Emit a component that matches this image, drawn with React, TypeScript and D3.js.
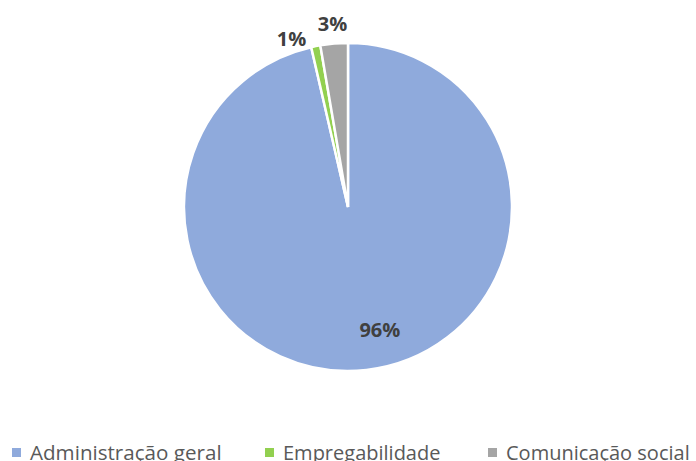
import React from "react";
import * as d3 from "d3";

const categories = ["Administração geral", "Empregabilidade", "Comunicação social"];
const values = [96.4, 0.9, 2.7];
const labels = ["96%", "1%", "3%"];
const colors = ["#8FAADC", "#92D050", "#A5A5A5"];

const W = 696;
const H = 461;

export default function App() {
  const cx = 348, cy = 207, r = 164;
  const pie = d3.pie<number>().sort(null).value((d) => d)(values);
  const arc = d3.arc<d3.PieArcDatum<number>>().innerRadius(0).outerRadius(r);
  const labelRadius = [r * 0.75, r * 1.085, r * 1.12];
  const labelShift = [0, -0.125, 0];
  const labelPos = (d: d3.PieArcDatum<number>, i: number): [number, number] => {
    const a = arc.innerRadius(labelRadius[i]).outerRadius(labelRadius[i]);
    const [x, y] = a.centroid({ ...d, startAngle: d.startAngle + labelShift[i], endAngle: d.endAngle + labelShift[i] });
    arc.innerRadius(0).outerRadius(r);
    return i === 0 ? [x + 18, y] : [x, y];
  };
  const legendX = [12, 265, 488];
  const positions = pie.map((d, i) => labelPos(d, i));
  return (
    <svg
      width={W}
      height={H}
      style={{ position: "absolute", left: 0, top: 0, fontFamily: "'Open Sans', 'Noto Sans', sans-serif" }}
    >
      <rect width={W} height={H} fill="#fff" />
      <g transform={`translate(${cx},${cy})`}>
        {pie.map((d, i) => (
          <path key={i} d={arc(d) || ""} fill={colors[i]} stroke="#fff" strokeWidth={2.5} />
        ))}
        {pie.map((d, i) => {
          const [x, y] = positions[i];
          return (
            <text
              key={i}
              x={x}
              y={y}
              textAnchor="middle"
              dominantBaseline="central"
              fontSize={20}
              fontWeight="bold"
              fill="#404040"
            >
              {labels[i]}
            </text>
          );
        })}
      </g>
      <g>
        {categories.map((c, i) => (
          <g key={i}>
            <rect x={legendX[i]} y={448} width={9} height={9} fill={colors[i]} />
            <text x={legendX[i] + 18} y={460} fontSize={i === 0 ? 20.6 : 20} fill="#595959">
              {c}
            </text>
          </g>
        ))}
      </g>
    </svg>
  );
}
